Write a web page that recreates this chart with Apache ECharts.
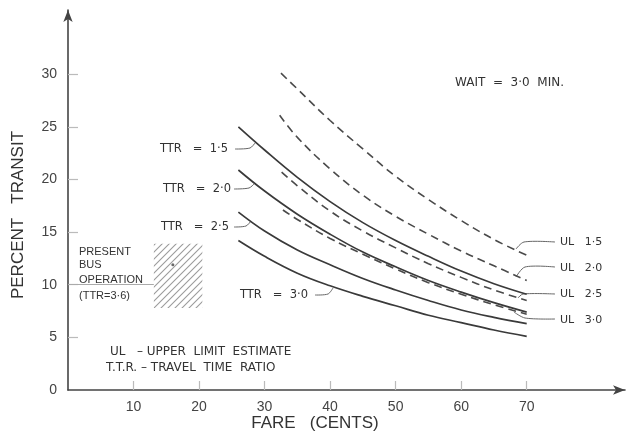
<!DOCTYPE html>
<html>
<head>
<meta charset="utf-8">
<script src="https://cdn.jsdelivr.net/npm/echarts@6/dist/echarts.min.js"></script>
<style>
  html, body { margin: 0; padding: 0; background: #fff; }
  #chart { width: 628px; height: 434px; }
</style>
</head>
<body>
<div id="chart"></div>
<script>
// fare (cents) for the travel-time-ratio curves
const ttrFare = [26, 30, 35, 40, 45, 50, 55, 60, 65, 70];
const ttr15 = [25.0, 22.8, 20.2, 17.9, 15.9, 14.2, 12.7, 11.3, 10.1, 9.1];
const ttr20 = [20.9, 18.9, 16.7, 14.8, 13.1, 11.7, 10.4, 9.3, 8.3, 7.4];
const ttr25 = [16.9, 15.1, 13.3, 11.9, 10.6, 9.5, 8.5, 7.6, 6.9, 6.3];
const ttr30 = [14.2, 12.7, 11.1, 9.9, 8.9, 8.0, 7.1, 6.4, 5.7, 5.1];

// upper limit estimates (dashed)
const ul15Fare = [32.5, 35, 40, 45, 50, 55, 60, 65, 70];
const ul15 = [30.1, 28.6, 25.6, 22.9, 20.3, 18.1, 16.1, 14.3, 12.8];
const ul20Fare = [32.3, 35, 40, 45, 50, 55, 60, 65, 70];
const ul20 = [26.1, 24.0, 21.0, 18.5, 16.5, 14.8, 13.2, 11.8, 10.4];
const ul25Fare = [32.6, 35, 40, 45, 50, 55, 60, 65, 70];
const ul25 = [20.7, 19.4, 17.0, 15.1, 13.5, 12.0, 10.7, 9.5, 8.5];
const ul30Fare = [32.8, 35, 40, 45, 50, 55, 60, 65, 70];
const ul30 = [17.1, 16.2, 14.4, 12.9, 11.5, 10.2, 9.1, 8.1, 7.2];

// present bus operation box: fare range, percent range
const busFare = [13.1, 20.5];
const busPct = [7.8, 13.9];
const busDot = [16, 11.9];

const xTicks = [10, 20, 30, 40, 50, 60, 70];
const yTicks = [5, 10, 15, 20, 25, 30];
const yLabels = [0, 5, 10, 15, 20, 25, 30];

const INK = '#333';
const FONT = '"Liberation Sans", Arial, sans-serif';
const WIDE = '"DejaVu Sans", Verdana, sans-serif';

const pairs = (xs, ys) => xs.map((x, i) => [x, ys[i]]);

// diagonal hatch pattern for the bus box
const hatch = document.createElement('canvas');
hatch.width = 7; hatch.height = 7;
(() => {
  const c = hatch.getContext('2d');
  c.strokeStyle = '#8a8a8a';
  c.lineWidth = 1.1;
  c.beginPath();
  c.moveTo(0, 7); c.lineTo(7, 0);
  c.moveTo(-1, 1); c.lineTo(1, -1);
  c.moveTo(6, 8); c.lineTo(8, 6);
  c.stroke();
})();

function curve(name, xs, ys, dashed) {
  return {
    name,
    type: 'line',
    data: pairs(xs, ys),
    smooth: 0.4,
    symbol: 'none',
    silent: true,
    lineStyle: {
      color: dashed ? '#4a4a4a' : '#3a3a3a',
      width: dashed ? 1.6 : 1.7,
      type: dashed ? [8, 5] : 'solid',
    },
    z: dashed ? 3 : 2,
  };
}

function txt(text, x, y, size, extra, font) {
  return {
    type: 'text', x, y, silent: true,
    style: Object.assign({ text, fill: INK, font: `${size || 11}px ${font || FONT}`, textVerticalAlign: 'middle' }, extra || {}),
  };
}

function leader(points) {
  return {
    type: 'polyline', silent: true,
    shape: { points, smooth: 0.3 },
    style: { stroke: '#666', lineWidth: 1, fill: null },
  };
}

const chart = echarts.init(document.getElementById('chart'), null, { renderer: 'canvas' });

const yName = txt('PERCENT   TRANSIT', 18, 215, 17, { textAlign: 'center' });
yName.rotation = Math.PI / 2;

chart.setOption({
  backgroundColor: '#fff',
  animation: false,
  grid: { left: 68, right: 3, top: 10, bottom: 44, containLabel: false },
  xAxis: {
    type: 'value',
    min: 0,
    max: 85,
    axisLine: { show: true, symbol: ['none', 'arrow'], symbolSize: [7, 12], lineStyle: { color: '#444', width: 1.6 } },
    axisTick: { show: true, inside: true, length: 9, customValues: xTicks, lineStyle: { color: '#bbb', width: 1.2 } },
    axisLabel: { customValues: xTicks, color: '#444', fontSize: 14, fontFamily: FONT, margin: 10 },
    splitLine: { show: false },
  },
  yAxis: {
    type: 'value',
    min: 0,
    max: 36.1,
    axisLine: { show: true, symbol: ['none', 'arrow'], symbolSize: [7, 12], lineStyle: { color: '#444', width: 1.6 } },
    axisTick: { show: true, inside: true, length: 10, customValues: yTicks, lineStyle: { color: '#bbb', width: 1.2 } },
    axisLabel: { customValues: yLabels, color: '#444', fontSize: 14, fontFamily: FONT, margin: 11 },
    splitLine: { show: false },
  },
  series: [
    curve('TTR 1.5', ttrFare, ttr15, false),
    curve('TTR 2.0', ttrFare, ttr20, false),
    curve('TTR 2.5', ttrFare, ttr25, false),
    curve('TTR 3.0', ttrFare, ttr30, false),
    curve('UL 1.5', ul15Fare, ul15, true),
    curve('UL 2.0', ul20Fare, ul20, true),
    curve('UL 2.5', ul25Fare, ul25, true),
    curve('UL 3.0', ul30Fare, ul30, true),
    {
      name: 'Present bus operation',
      type: 'scatter',
      data: [busDot],
      symbolSize: 3,
      itemStyle: { color: '#444' },
      silent: true,
      markArea: {
        silent: true,
        itemStyle: { color: { image: hatch, repeat: 'repeat' }, opacity: 0.85 },
        data: [[{ coord: [busFare[0], busPct[1]] }, { coord: [busFare[1], busPct[0]] }]],
      },
      markLine: {
        silent: true,
        symbol: 'none',
        label: { show: false },
        lineStyle: { color: '#aaa', width: 1, type: 'solid' },
        data: [[{ coord: [0, 10] }, { coord: [busFare[0], 10] }]],
      },
    },
  ],
  graphic: [
    yName,
    txt('FARE   (CENTS)', 315, 423, 17, { textAlign: 'center' }),
    txt('WAIT  =  3·0  MIN.', 455, 83, 12, null, WIDE),

    txt('TTR   =  1·5', 160, 149, 11.5, null, WIDE),
    txt('TTR   =  2·0', 163, 189, 11.5, null, WIDE),
    txt('TTR   =  2·5', 161, 227, 11.5, null, WIDE),
    txt('TTR   =  3·0', 240, 295, 11.5, null, WIDE),
    leader([[235, 149], [250, 148], [255, 143]]),
    leader([[234, 189], [249, 188], [254, 184]]),
    leader([[234, 227], [246, 226], [251, 221]]),
    leader([[315, 295], [328, 294], [333, 288]]),

    txt('UL   1·5', 560, 242, 11, null, WIDE),
    txt('UL   2·0', 560, 268, 11, null, WIDE),
    txt('UL   2·5', 560, 294, 11, null, WIDE),
    txt('UL   3·0', 560, 320, 11, null, WIDE),
    leader([[555, 242], [524, 242], [516, 249]]),
    leader([[555, 267], [525, 267], [516, 277]]),
    leader([[555, 294], [523, 294], [518, 298]]),
    leader([[555, 319], [525, 318], [514, 312]]),

    txt('PRESENT', 79, 252, 11),
    txt('BUS', 79, 265, 11),
    txt('OPERATION', 79, 280, 11),
    txt('(TTR=3·6)', 79, 296, 11),

    txt('UL   – UPPER  LIMIT  ESTIMATE', 110, 352, 12, null, WIDE),
    txt('T.T.R. – TRAVEL  TIME  RATIO', 106, 368, 12, null, WIDE),
  ],
});
</script>
</body>
</html>
